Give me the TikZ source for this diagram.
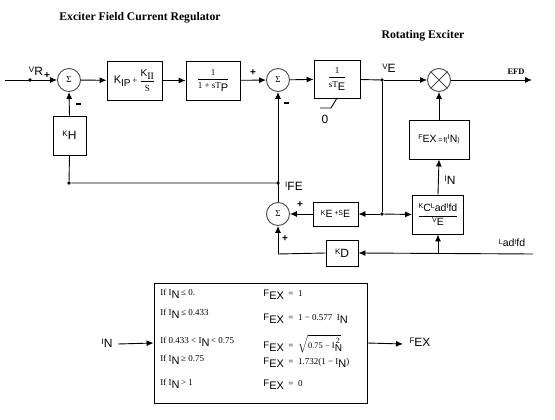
\documentclass[tikz,border=0pt]{standalone}
\usepackage{fontspec}
\setmainfont{Liberation Serif}
\setsansfont{Liberation Sans}
\usetikzlibrary{arrows.meta}
% small letter raised + big letter (label style of the reference)
\newcommand{\lb}[2]{\raisebox{3.2pt}{\sffamily\fontsize{8}{9}\selectfont #1}{\sffamily\fontsize{12}{13}\selectfont #2}}
\newcommand{\lbs}[2]{\raisebox{2.6pt}{\sffamily\fontsize{7}{8}\selectfont #1}{\sffamily\fontsize{10.5}{12}\selectfont #2}}
\newcommand{\INs}{I\raisebox{-3pt}{\sffamily\fontsize{11}{12}\selectfont N}}
\newcommand{\FEXs}{{\sffamily\fontsize{9.5}{10}\selectfont F\raisebox{-3pt}{\fontsize{11}{12}\selectfont EX}}}
\newcommand{\fr}[2]{${\displaystyle\frac{\mbox{#1}}{\mbox{#2}}}$}
\begin{document}
\begin{tikzpicture}[x=1pt,y=-1pt,
  line width=0.9pt,
  arr/.style={-{Latex[length=7pt,width=6pt]}},
  blk/.style={draw, rectangle, inner sep=1pt, font=\sffamily},
  sumc/.style={draw=gray!60!black, circle, minimum size=23pt, inner sep=0pt, font=\rmfamily\fontsize{9}{10}\selectfont},
  dotn/.style={circle, fill, inner sep=0pt, minimum size=3.6pt},
  lbl/.style={font=\sffamily, inner sep=0pt},
  pl/.style={font=\sffamily\bfseries\fontsize{10}{11}\selectfont, inner sep=0pt},
  ttl/.style={font=\bfseries\fontsize{11.7}{13}\selectfont, inner sep=0pt}]
\useasboundingbox (0,0) rectangle (555,420);
% titles
\node[ttl] (t1) at (140,18) {Exciter Field Current Regulator};
\node[ttl] (t2) at (423,36) {Rotating Exciter};
% forward path
\coordinate (in) at (5,80);
\node[dotn] (vr) at (30,80) {};
\node[sumc] (s1) at (69,80) {Σ};
\node[blk, minimum width=55pt, minimum height=39pt, inner sep=0pt] (b1) at (134.5,80.5)
  {\sffamily\fontsize{11}{12}\selectfont K\raisebox{-3pt}{\fontsize{10}{11}\selectfont IP}\,{\rmfamily\fontsize{9}{10}\selectfont +}\,\fr{\fontsize{10}{11}\selectfont K\raisebox{-3pt}{\rmfamily\fontsize{10}{11}\selectfont II}}{\rmfamily\fontsize{9}{10}\selectfont S}};
\node[blk, minimum width=54pt, minimum height=39pt] (b2) at (213,80.5)
  {\fr{\rmfamily\fontsize{9}{10}\selectfont 1}{\rmfamily\fontsize{9}{10}\selectfont 1 + sT\raisebox{-3pt}{\sffamily\fontsize{11}{12}\selectfont P}}};
\node[sumc] (s2) at (278,80) {Σ};
\node[blk, minimum width=46pt, minimum height=38pt] (b3) at (337,79)
  {\fr{\rmfamily\fontsize{9}{10}\selectfont 1}{\rmfamily\fontsize{9}{10}\selectfont sT\raisebox{-3.5pt}{\sffamily\fontsize{11}{12}\selectfont E}}};
\node[dotn] (ve) at (382,80) {};
\node[sumc] (m) at (439,80) {};
\draw[gray!60!black] (m.45) -- (m.225) (m.135) -- (m.315);
\coordinate (efd) at (532,80);
\draw[arr] (in) -- (s1);
\draw[arr] (s1) -- (b1);
\draw[arr] (b1) -- (b2);
\draw[arr] (b2) -- (s2);
\draw[arr] (s2) -- (b3);
\draw (b3) -- (ve);
\draw[arr] (ve) -- (m);
\draw[arr] (m) -- (efd);
% limiter
\coordinate (l1) at (320,108);
\coordinate (l2) at (331,108);
\coordinate (l3) at (337,98);
\draw (l1) -- (l2) -- (l3);
\node[lbl, font=\sffamily\fontsize{12}{13}\selectfont] (zero) at (325,119) {0};
% labels on forward path
\node[lbl] (vrl) at (36,71) {\lb{V}{R}};
\node[pl] (p1) at (47,76) {+};
\node[lbl] (m1) at (78,104) {\rule{5pt}{1.5pt}};
\node[pl] (p2) at (253,73) {+};
\node[lbl] (m2) at (286,103) {\rule{5pt}{1.5pt}};
\node[lbl] (vel) at (389,68) {\lb{V}{E}};
\node[lbl, font=\rmfamily\bfseries\fontsize{8.5}{9}\selectfont] (efdl) at (516,72) {EFD};
% KH feedback
\node[blk, minimum width=33pt, minimum height=39pt] (kh) at (69.5,135.5) {\lb{K}{H}};
\node[dotn] (d1) at (69,183) {};
\node[dotn] (ife) at (278,183) {};
\draw[arr] (kh.north) -- (s1.south);
\draw (kh.south) -- (d1) -- (ife);
\node[lbl] (ifel) at (294,186) {\lb{I}{FE}};
% exciter feedback
\node[sumc] (s3) at (278,214) {Σ};
\draw[arr] (s3.north) -- (s2.south);
\node[dotn] (d2) at (382,214) {};
\draw (ve) -- (d2);
\node[blk, minimum width=45pt, minimum height=24pt, inner sep=0pt] (ke) at (335.5,214) {\lbs{K}{E}\,\lbs{+S}{E}};
\node[blk, minimum width=51pt, minimum height=39pt, inner sep=0pt] (kc) at (438,214.5)
  {\fr{\lbs{K}{C}\lbs{L}{ad}\lbs{I}{fd}}{\lbs{V}{E}}};
\node[blk, minimum width=60pt, minimum height=39pt, inner sep=0pt] (fex) at (439,139.5)
  {\lbs{F}{EX}\,{\fontsize{7}{8}\selectfont=\,f(}\lbs{I}{N}{\fontsize{7}{8}\selectfont )}};
\draw[arr] (d2) -- (ke.east);
\draw[arr] (d2) -- (kc.west);
\draw[arr] (ke.west) -- (s3.east);
\draw[arr] (kc.north) -- (fex.south);
\draw[arr] (fex.north) -- (m.south);
\node[lbl] (inl) at (450,180) {\lb{I}{N}};
\node[pl] (p3) at (300,205) {+};
\node[pl] (p4) at (285,239) {+};
% KD path
\node[blk, minimum width=32pt, minimum height=26pt] (kd) at (342,253) {\lb{K}{D}};
\coordinate (lad) at (533,254);
\coordinate (br) at (kc.south |- lad);
\coordinate (c3) at (278,254);
\draw[arr] (lad) -- (kd.east);
\draw[arr] (br) -- (kc.south);
\draw (kd.west) -- (c3);
\draw[arr] (c3) -- (s3.south);
\node[lbl] (ladl) at (512,243) {\lbs{L}{ad}\lbs{I}{fd}};
% table
\node[draw, minimum width=213pt, minimum height=120pt, inner sep=0pt] (tab) at (260.5,343) {};
\coordinate (tin) at (118,344);
\coordinate (tout) at (403,344);
\draw[arr] (tin) -- (tab.west);
\draw[arr] (tab.east) -- (tout);
\node[lbl] (tinl) at (107,343) {\lb{I}{N}};
\node[lbl] (toutl) at (420,342) {\lb{F}{EX}};
\begin{scope}[every node/.style={anchor=west, inner sep=0pt, font=\rmfamily\fontsize{9}{10}\selectfont}]
\node (r1) at (160,294) {If \INs\,≤ 0.};
\node (r2) at (160,314) {If \INs\,≤ 0.433};
\node (r3) at (160,342) {If 0.433 < \INs\,< 0.75};
\node (r4) at (160,360) {If \INs\,≥ 0.75};
\node (r5) at (160,384) {If \INs\,> 1};
\node (q1) at (263,295) {\FEXs\ \ =\ \ 1};
\node (q2) at (263,319) {\FEXs\ \ =\ \ 1 − 0.577\ \ \INs};
\node (q3) at (263,344) {\FEXs\ \ =\ \ $\sqrt{\mbox{\fontsize{8.5}{10}\selectfont 0.75 − I\raisebox{-3pt}{\sffamily\fontsize{10}{11}\selectfont N}\hspace{-6pt}\raisebox{5.5pt}{\fontsize{8}{9}\selectfont 2}\,}}$};
\node (q4) at (263,363) {\FEXs\ \ =\ \ 1.732(1 − \INs)};
\node (q5) at (263,385) {\FEXs\ \ =\ \ 0};
\end{scope}
\end{tikzpicture}
\end{document}
